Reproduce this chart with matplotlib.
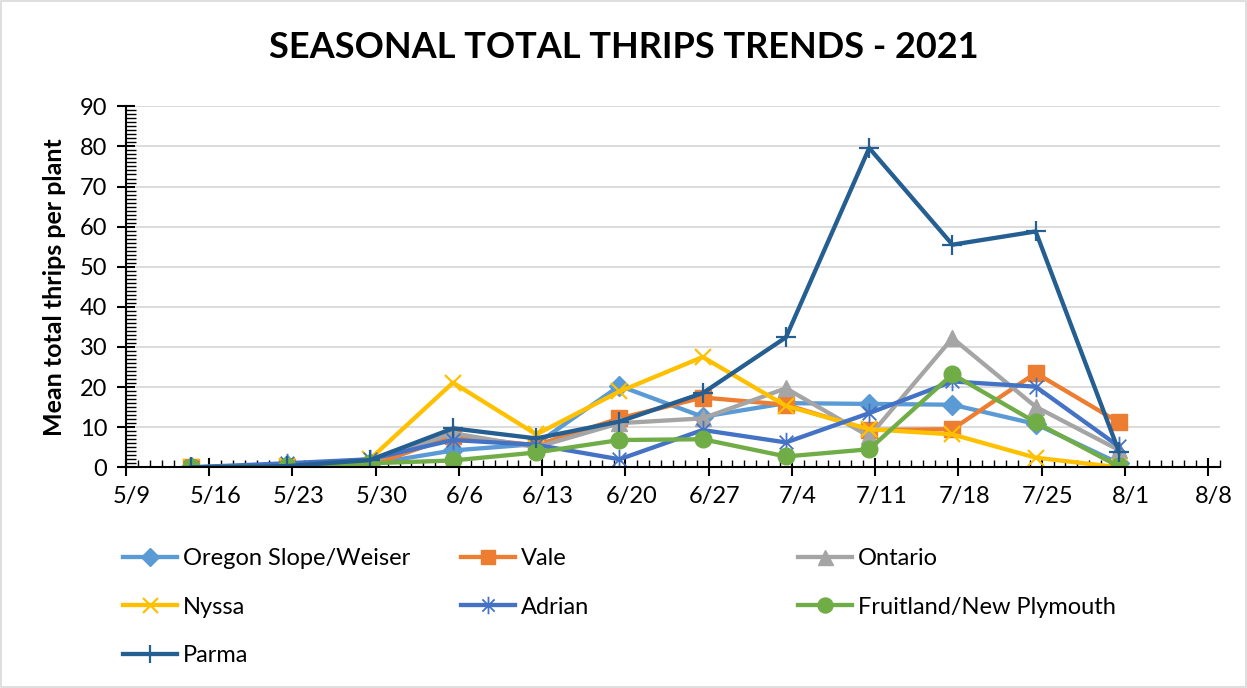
import numpy as np
import pandas as pd
import matplotlib
matplotlib.use("Agg")
import matplotlib.pyplot as plt
import matplotlib.dates as mdates
from matplotlib.path import Path
from matplotlib.patches import Rectangle
from matplotlib.transforms import ScaledTranslation

plt.rcParams['font.family'] = ['Lato', 'DejaVu Sans']

# sample dates (2021)
dates = ["5/14", "5/22", "5/29", "6/5", "6/12", "6/19",
         "6/26", "7/3", "7/10", "7/17", "7/24", "7/31"]

oregon_slope = [0, 0.5, 0.8, 4.2, 5.8, 20.3, 12.6, 16.0, 15.8, 15.6, 10.8, 1.0]
vale = [0, 0, 0.4, 7.7, 5.5, 12.2, 17.4, 15.6, 9.3, 9.5, 23.5, 11.2]
ontario = [0, 0.5, 1.5, 8.5, 5.0, 11.0, 12.2, 19.7, 7.7, 32.2, 15.1, 4.3]
nyssa = [0, 0.3, 2.0, 21.1, 8.2, 18.9, 27.5, 15.3, 9.5, 8.2, 2.4, 0]
adrian = [0, 1.0, 2.0, 6.8, 5.6, 2.0, 9.3, 6.2, 13.5, 21.4, 20.1, 5.2]
fruitland = [0, 0.3, 1.0, 1.7, 3.7, 6.8, 7.0, 2.7, 4.5, 23.2, 11.2, 0.2]
parma = [0, 0.3, 1.8, 9.7, 7.2, 11.4, 18.5, 32.4, 79.6, 55.5, 58.8, 3.9]

# Excel date axis centres each point in its day slot
x = pd.to_datetime(["2021/" + d for d in dates]) + pd.Timedelta(hours=12)

asterisk = Path([(0, -1), (0, 1), (-0.7, -0.7), (0.7, 0.7), (-0.7, 0.7), (0.7, -0.7)],
                [Path.MOVETO, Path.LINETO, Path.MOVETO, Path.LINETO, Path.MOVETO, Path.LINETO])

series = [
    ("Oregon Slope/Weiser", oregon_slope, "#5B9BD5", "D", 10, 0),
    ("Vale", vale, "#ED7D31", "s", 11, 0),
    ("Ontario", ontario, "#A5A5A5", "^", 12, 0),
    ("Nyssa", nyssa, "#FFC000", "x", 12, 1.6),
    ("Adrian", adrian, "#4472C4", asterisk, 14, 1.3),
    ("Fruitland/New Plymouth", fruitland, "#70AD47", "o", 12, 0),
    ("Parma", parma, "#255E91", "+", 14, 1.6),
]

fig = plt.figure(figsize=(12.47, 6.88), dpi=100)
ax = fig.add_axes([126/1247, 1-467.3/688, (1220-126)/1247, (467.3-106.3)/688])

handles = []
for name, vals, col, mk, ms, mew in series:
    h, = ax.plot(x, vals, color=col, lw=3.1, marker=mk, markersize=ms,
                 markerfacecolor=col, markeredgecolor=col,
                 markeredgewidth=mew if mew else 1, label=name)
    handles.append(h)

ax.set_ylim(0, 90)
ax.set_yticks(np.arange(0, 91, 10))
ax.set_yticks(np.arange(0, 91, 1), minor=True)
ax.set_xlim(pd.Timestamp("2021-05-09"), pd.Timestamp("2021-08-09"))
ax.xaxis.set_major_locator(mdates.WeekdayLocator(byweekday=mdates.SU))
ax.xaxis.set_minor_locator(mdates.DayLocator())
ax.xaxis.set_major_formatter(plt.FuncFormatter(
    lambda v, p: "{}/{}".format(mdates.num2date(v).month, mdates.num2date(v).day)))

ax.grid(axis='y', color='#D9D9D9', lw=1.3)
ax.set_axisbelow(True)
for s in ['top', 'right']:
    ax.spines[s].set_visible(False)
for s in ['left', 'bottom']:
    ax.spines[s].set_linewidth(1.5)
    ax.spines[s].set_color('black')

ax.tick_params(which='major', direction='inout', length=13, width=1.5,
               labelsize=17, pad=7)
ax.tick_params(which='minor', direction='in', length=5, width=1)
ax.tick_params(axis='y', which='minor', direction='in', length=7)

for lab in ax.get_xticklabels():
    lab.set_transform(lab.get_transform() + ScaledTranslation(6/100, 0, fig.dpi_scale_trans))

ax.set_ylabel("Mean total thrips per plant", fontsize=18, fontweight='bold', labelpad=10)
fig.suptitle("SEASONAL TOTAL THRIPS TRENDS - 2021", fontsize=26, fontweight='bold',
             x=0.5, y=1-48/688, va='center')

# legend in three equal columns like Excel
cols = [[0, 3, 6], [1, 4], [2, 5]]
col_x = [123, 461, 798]
for cx, idx in zip(col_x, cols):
    leg = fig.legend([handles[i] for i in idx], [series[i][0] for i in idx],
                     loc='upper left', bbox_to_anchor=(cx/1247, 1-548/688),
                     frameon=False, fontsize=17, handlelength=2.3,
                     handletextpad=0.25, labelspacing=1.17, borderaxespad=0,
                     borderpad=0, markerscale=0.9)

fig.patches.append(Rectangle((0.001, 0.001), 0.998, 0.998, transform=fig.transFigure,
                             fill=False, edgecolor='#D9D9D9', lw=1.2))

fig.savefig("out.png", dpi=100)
